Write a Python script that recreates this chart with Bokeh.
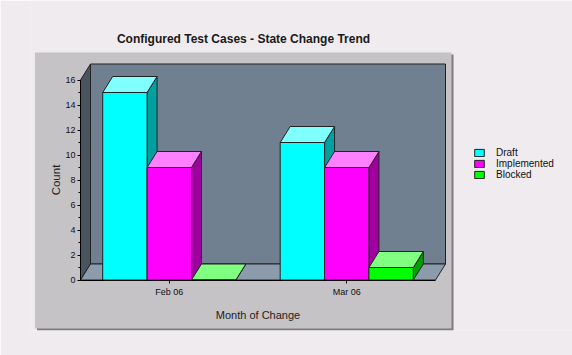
import math
from bokeh.plotting import figure
from bokeh.models import (Range1d, FixedTicker, Legend, LegendItem, ColumnDataSource)
from bokeh.core.properties import value
from bokeh.embed import file_html
from bokeh.resources import INLINE

# ---------------- data ----------------
categories = ["Feb 06", "Mar 06"]
series_names = ["Draft", "Implemented", "Blocked"]
draft = [15, 11]
implemented = [9, 9]
blocked = [0, 1]
y_ticks = [0, 2, 4, 6, 8, 10, 12, 14, 16]
y_minor_ticks = [1, 3, 5, 7, 9, 11, 13, 15]
title_text = "Configured Test Cases - State Change Trend"
x_title = "Month of Change"
y_title = "Count"

# ---------------- style / layout ----------------
PAGE_BG = "#EFEBEF"
PANEL = "#C6C3C6"
SHADOW = "#7E7B7E"
BACK_WALL = "#708090"
SIDE_WALL = "#4A545E"
FLOOR = "#8C9CAC"
EDGE = "#222222"
FRONT = ["#00FFFF", "#FF00FF", "#00FF00"]
TOP = ["#80FFFF", "#FF80FF", "#80FF80"]
SIDE = ["#00A0A0", "#A000A0", "#00A000"]
FONT = "Liberation Sans"

W, H = 572, 355
FRAME_L, FRAME_B = 30, 25          # left / bottom borders (axis panels)
X0_PX, PX_PER_X = 80.0, 177.5      # page x of data x=0, pixels per category
Y0_PX, PX_PER_Y = 279.5, 12.5      # page y of data y=0, pixels per count


def px2x(px):
    return (px - X0_PX) / PX_PER_X


def px2y(py):
    return (Y0_PX - py) / PX_PER_Y


N = len(categories)
Y_MAX = y_ticks[-1]
BAR_W = 0.25
DX = 10 / PX_PER_X      # depth offset (x)
DY = 16 / PX_PER_Y      # depth offset (y)

p = figure(width=W, height=H, title=None,
           x_range=Range1d(px2x(FRAME_L), px2x(W)),
           y_range=Range1d(px2y(H - FRAME_B), px2y(0)),
           output_backend="svg", toolbar_location=None,
           min_border_left=FRAME_L, min_border_right=0,
           min_border_top=0, min_border_bottom=FRAME_B,
           background_fill_color=PAGE_BG, border_fill_color=PAGE_BG,
           outline_line_color=None)
p.xgrid.visible = False
p.ygrid.visible = False

# panel with shadow
p.quad(left=px2x(36.5), right=px2x(453), top=px2y(54), bottom=px2y(330),
       fill_color=SHADOW, line_color=None)
p.quad(left=px2x(34.5), right=px2x(451), top=px2y(52), bottom=px2y(328),
       fill_color=PANEL, line_color=None)

# walls
p.patch([DX, N + DX, N + DX, DX], [DY, DY, Y_MAX + DY, Y_MAX + DY],
        fill_color=BACK_WALL, line_color=EDGE, line_width=1)
p.patch([0, DX, DX, 0], [0, DY, Y_MAX + DY, Y_MAX],
        fill_color=SIDE_WALL, line_color=EDGE, line_width=1)
p.patch([0, N, N + DX, DX], [0, 0, DY, DY],
        fill_color=FLOOR, line_color=EDGE, line_width=1)

# bars
legend_items = []
for k, (name, vals) in enumerate(zip(series_names, [draft, implemented, blocked])):
    lefts = [i + 0.5 - 1.5 * BAR_W + k * BAR_W for i in range(N)]
    rights = [l + BAR_W for l in lefts]
    side_src = ColumnDataSource(dict(
        xs=[[r, r + DX, r + DX, r] for r in rights],
        ys=[[0, DY, v + DY, v] for v in vals]))
    top_src = ColumnDataSource(dict(
        xs=[[l, r, r + DX, l + DX] for l, r in zip(lefts, rights)],
        ys=[[v, v, v + DY, v + DY] for v in vals]))
    front_src = ColumnDataSource(dict(left=lefts, right=rights,
                                      bottom=[0] * N, top=vals))
    p.patches("xs", "ys", source=side_src, fill_color=SIDE[k],
              line_color=EDGE, line_width=1)
    p.patches("xs", "ys", source=top_src, fill_color=TOP[k],
              line_color=EDGE, line_width=1)
    r = p.quad(left="left", right="right", bottom="bottom", top="top",
               source=front_src, fill_color=FRONT[k], line_color=EDGE,
               line_width=1)
    legend_items.append(LegendItem(label=name, renderers=[r]))

# y axis (fixed at the front-left edge of the floor)
ya = p.yaxis[0]
ya.fixed_location = 0
ya.ticker = FixedTicker(ticks=y_ticks, minor_ticks=y_minor_ticks)
ya.bounds = (0, Y_MAX)
ya.major_label_text_font = FONT
ya.major_label_text_font_size = "9px"
ya.major_label_text_color = "#111111"
ya.major_label_standoff = 2
ya.axis_line_color = "black"
ya.major_tick_in = 0
ya.major_tick_out = 3
ya.minor_tick_in = 0
ya.minor_tick_out = 2
ya.major_tick_line_color = "black"
ya.minor_tick_line_color = "black"

# x axis (fixed at the front edge of the floor)
xa = p.xaxis[0]
xa.fixed_location = 0
xa.ticker = FixedTicker(ticks=[i + 0.5 for i in range(N)], minor_ticks=[])
xa.major_label_overrides = {i + 0.5: c for i, c in enumerate(categories)}
xa.bounds = (0, N)
xa.major_label_text_font = FONT
xa.major_label_text_font_size = "9px"
xa.major_label_text_color = "#111111"
xa.major_label_standoff = 4
xa.axis_line_color = "black"
xa.major_tick_in = 0
xa.major_tick_out = 3
xa.minor_tick_line_color = None

# titles
p.text(x=[px2x(243)], y=[px2y(38)], text=[title_text],
       text_align="center", text_baseline="alphabetic",
       text_font=value(FONT), text_font_size=value("12px"),
       text_font_style="bold", text_color="#1a1a1a")
p.text(x=[N / 2], y=[px2y(314)], text=[x_title],
       text_align="center", text_baseline="alphabetic",
       text_font=value(FONT), text_font_size=value("11px"),
       text_color="#222222")
p.text(x=[px2x(55)], y=[Y_MAX / 2], text=[y_title], angle=math.pi / 2,
       text_align="center", text_baseline="middle",
       text_font=value(FONT), text_font_size=value("11.5px"),
       text_color="#222222")

# legend (inside the frame, right of the panel)
legend = Legend(items=legend_items, location=(473 - FRAME_L, H - FRAME_B - 180),
                orientation="vertical",
                glyph_width=12, glyph_height=9, label_height=9,
                label_standoff=11, spacing=0, padding=0, margin=0,
                label_text_font=FONT, label_text_font_size="10px",
                label_text_color="#111111",
                border_line_color=None, background_fill_alpha=0)
p.add_layout(legend)

open("out.html", "w").write(file_html(p, INLINE))
